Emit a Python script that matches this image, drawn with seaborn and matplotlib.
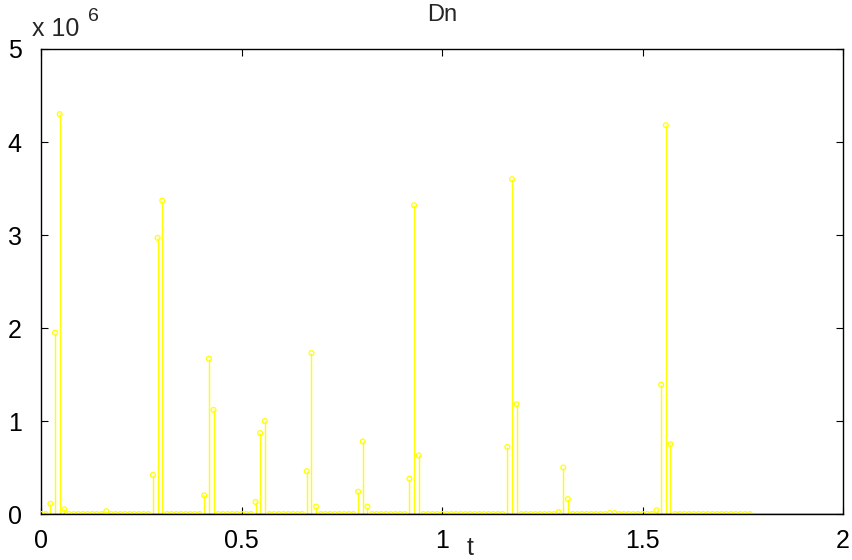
import numpy as np
import matplotlib
matplotlib.use("Agg")
import matplotlib.pyplot as plt
from matplotlib.ticker import FuncFormatter
import seaborn as sns

# Sampled Dn signal (one value per time step)
Dn = [
    0, 0, 0.11e6, 1.95e6, 4.30e6, 0.05e6, 0, 0, 0, 0,
    0, 0, 0, 0, 0.03e6, 0, 0, 0, 0, 0,
    0, 0, 0, 0, 0.42e6, 2.97e6, 3.37e6, 0, 0, 0,
    0, 0, 0, 0, 0, 0.20e6, 1.67e6, 1.12e6, 0, 0,
    0, 0, 0, 0, 0, 0, 0.13e6, 0.87e6, 1.00e6, 0,
    0, 0, 0, 0, 0, 0, 0, 0.46e6, 1.73e6, 0.08e6,
    0, 0, 0, 0, 0, 0, 0, 0, 0.24e6, 0.78e6,
    0.08e6, 0, 0, 0, 0, 0, 0, 0, 0, 0.38e6,
    3.32e6, 0.63e6, 0, 0, 0, 0, 0, 0, 0, 0,
    0, 0, 0, 0, 0, 0, 0, 0, 0, 0,
    0.72e6, 3.60e6, 1.18e6, 0, 0, 0, 0, 0, 0, 0,
    0, 0.02e6, 0.50e6, 0.16e6, 0, 0, 0, 0, 0, 0,
    0, 0, 0.01e6, 0.01e6, 0, 0, 0, 0, 0, 0,
    0, 0, 0.04e6, 1.39e6, 4.18e6, 0.75e6, 0, 0, 0, 0,
    0, 0, 0, 0, 0, 0, 0, 0, 0, 0,
    0, 0, 0,
]
dt = 1 / 86
t = np.arange(len(Dn)) * dt

x_ticks = [0, 0.5, 1, 1.5, 2]
x_tick_labels = ["0", "0.5", "1", "1.5", "2"]
y_ticks = [0, 1e6, 2e6, 3e6, 4e6, 5e6]

sns.set_style("white")
plt.rcParams["font.family"] = ["Liberation Sans", "DejaVu Sans"]

fig = plt.figure(figsize=(8.53, 5.60), dpi=100)
ax = fig.add_axes([0.0481, 0.0821, 0.9402, 0.8304])

stem_color = (1.0, 1.0, 0.0)
ax.vlines(t, 0, Dn, colors=[stem_color], linewidth=1.0, zorder=2)
sns.scatterplot(x=t, y=Dn, ax=ax, marker="o", s=12, color=stem_color,
                linewidth=0.9, zorder=3, legend=False)
for coll in ax.collections[1:]:
    coll.set_facecolor("none")
    coll.set_edgecolor(stem_color)
ax.axhline(0, color="black", linewidth=1.0, zorder=4)

ax.set_xlim(0, 2)
ax.set_ylim(0, 5e6)
ax.set_xticks(x_ticks)
ax.set_xticklabels(x_tick_labels)
ax.set_yticks(y_ticks)
ax.yaxis.set_major_formatter(FuncFormatter(lambda v, p: f"{v / 1e6:g}"))

ax.tick_params(direction="in", length=5, width=0.8, labelsize=18,
               top=True, right=True, bottom=True, left=True,
               colors="black")
ax.tick_params(axis="x", pad=11)
ax.tick_params(axis="y", pad=14)
for side in ax.spines.values():
    side.set_visible(True)
    side.set_color("black")
    side.set_linewidth(1.0)

ax.set_title("Dn", fontsize=17, pad=20)
fig.text(0.551, 0.0, "t", fontsize=18, ha="center", va="bottom")
fig.text(0.038, 0.927, "x 10", fontsize=18, ha="left", va="bottom")
fig.text(0.103, 0.955, "6", fontsize=14, ha="left", va="bottom")

fig.savefig("out.png", dpi=100, facecolor="white")
